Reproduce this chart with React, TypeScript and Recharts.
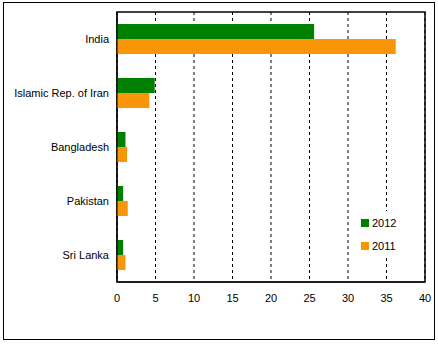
import React from 'react';
import { BarChart, Bar, XAxis, YAxis, CartesianGrid, Legend, ReferenceArea } from 'recharts';

const categories = ['India', 'Islamic Rep. of Iran', 'Bangladesh', 'Pakistan', 'Sri Lanka'];
const values2012 = [25.6, 4.9, 1.1, 0.8, 0.8];
const values2011 = [36.2, 4.2, 1.3, 1.4, 1.1];
const xTicks = [0, 5, 10, 15, 20, 25, 30, 35, 40];
const legendOrder = ['2012', '2011'];

const data = categories.map((c, i) => ({ name: c, y2012: values2012[i], y2011: values2011[i] }));

const font = '"Liberation Sans", Arial, sans-serif';

const YTick = (props: any) => {
  const { x, y, payload } = props;
  return (
    <text x={x} y={y} dy="0.355em" textAnchor="end" fill="#000" fontSize={11} fontFamily={font}>
      {payload.value}
    </text>
  );
};

const LegendContent = (props: any) => {
  const items = [...(props.payload || [])].sort(
    (a: any, b: any) => legendOrder.indexOf(a.value) - legendOrder.indexOf(b.value)
  );
  return (
    <div style={{ background: '#fff', width: 55, height: 44, padding: '3px 0 0 8px', boxSizing: 'border-box' }}>
      {items.map((it: any) => (
        <div key={it.value} style={{ display: 'flex', alignItems: 'center', height: 18, marginBottom: 5 }}>
          <svg width={8} height={8} style={{ marginRight: 3 }}>
            <rect width={8} height={8} fill={it.color} />
          </svg>
          <span style={{ color: '#000', fontSize: 11, fontFamily: font, whiteSpace: 'nowrap' }}>{it.value}</span>
        </div>
      ))}
    </div>
  );
};

export default function App() {
  return (
    <div style={{ position: 'absolute', left: 0, top: 0, width: 438, height: 345, background: '#fff' }}>
      <svg width={0} height={0} style={{ position: 'absolute' }}>
        <defs>
          <pattern id="orangeTex" width={2} height={2} patternUnits="userSpaceOnUse">
            <rect width={2} height={2} fill="#FF9900" />
            <rect width={1} height={1} fill="#F08C00" />
          </pattern>
        </defs>
      </svg>
      <div style={{ position: 'absolute', left: 3, top: 2, width: 432, height: 338, border: '1px solid #000', boxSizing: 'border-box' }} />
      <BarChart
        width={438}
        height={345}
        data={data}
        layout="vertical"
        margin={{ top: 12, right: 13, bottom: 33, left: 0 }}
        barCategoryGap={12}
        barGap={0}
        style={{ position: 'absolute', left: 0, top: 0 }}
      >
        <CartesianGrid horizontal={false} vertical stroke="#000" strokeDasharray="3 3" />
        <XAxis
          type="number"
          domain={[0, 40]}
          ticks={xTicks}
          height={30}
          tickLine={false}
          tickSize={0}
          tickMargin={12}
          axisLine={{ stroke: '#000' }}
          tick={{ fill: '#000', fontSize: 11, fontFamily: font }}
        />
        <YAxis
          type="category"
          dataKey="name"
          width={117}
          tickLine={false}
          tickSize={0}
          tickMargin={8}
          axisLine={{ stroke: '#000' }}
          tick={<YTick />}
        />
        <ReferenceArea x1={0} x2={40} fill="none" stroke="#000" strokeWidth={1.5} fillOpacity={0} />
        <Bar dataKey="y2012" name="2012" fill="#008000" isAnimationActive={false} />
        <Bar dataKey="y2011" name="2011" fill="url(#orangeTex)" isAnimationActive={false} />
        <Legend
          layout="vertical"
          align="center"
          verticalAlign="middle"
          content={<LegendContent />}
          wrapperStyle={{ position: 'absolute', left: 353, top: 211, width: 55, height: 44 }}
        />
      </BarChart>
    </div>
  );
}
